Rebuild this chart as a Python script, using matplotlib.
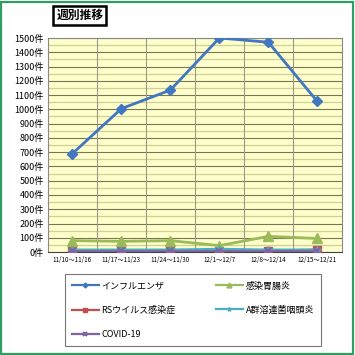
import matplotlib
matplotlib.use("Agg")
import matplotlib.pyplot as plt
from matplotlib.patches import Rectangle

plt.rcParams['font.family'] = ['Noto Sans CJK JP', 'DejaVu Sans']

# data
weeks = ["11/10～11/16", "11/17～11/23", "11/24～11/30", "12/1～12/7", "12/8～12/14", "12/15～12/21"]
influenza = [690, 1005, 1135, 1500, 1470, 1055]
gastro = [80, 75, 80, 45, 110, 95]
rsv = [10, 8, 8, 5, 8, 15]
strep_a = [15, 15, 15, 20, 15, 15]
covid = [8, 8, 8, 8, 8, 8]
yticks = list(range(0, 1600, 100))

fig = plt.figure(figsize=(3.55, 3.55), dpi=100)
ax = fig.add_axes([0.135, 0.290, 0.828, 0.603])
ax.set_facecolor("#FFFFCC")

x = list(range(len(weeks)))
h_inf, = ax.plot(x, influenza, color="#4177C0", lw=2, marker="D", ms=5, zorder=5)
h_gas, = ax.plot(x, gastro, color="#9BBB59", lw=2, marker="^", ms=7, zorder=4)
h_rs, = ax.plot(x, rsv, color="#C0504D", lw=2, marker="s", ms=6, zorder=3)
h_str, = ax.plot(x, strep_a, color="#4BACC6", lw=2, marker="*", ms=6, zorder=4)
h_cov, = ax.plot(x, covid, color="#8064A2", lw=2, marker="x", ms=5, mew=1.5, zorder=4)

ax.set_xlim(-0.5, len(weeks) - 0.5)
ax.set_ylim(0, 1500)
ax.set_yticks(yticks)
ax.set_yticklabels([f"{v}件" for v in yticks], fontsize=6.5)
ax.set_yticks(range(50, 1500, 100), minor=True)
ax.set_xticks(x)
ax.set_xticklabels(weeks, fontsize=4.5)
ax.tick_params(length=0, pad=3)
ax.tick_params(axis="y", which="minor", length=0)
ax.grid(axis="y", which="major", color="#777755", lw=0.8)
ax.grid(axis="y", which="minor", color="#CFCF9A", lw=0.9)
for b in [0.5, 1.5, 2.5, 3.5, 4.5]:
    ax.axvline(b, color="#999988", lw=0.8, zorder=1)
ax.set_axisbelow(True)
for s in ax.spines.values():
    s.set_color("#888888")
ax.spines["bottom"].set_color("#444444")

leg = fig.legend([h_inf, h_rs, h_cov, h_gas, h_str],
                 ["インフルエンザ", "RSウイルス感染症", "COVID-19", "感染胃腸炎", "A群溶連菌咽頭炎"],
                 ncol=2, loc="upper left", bbox_to_anchor=(0.169, 0.0, 0.749, 0.240),
                 mode="expand", fontsize=6.5, frameon=True, fancybox=False,
                 edgecolor="#555555", handlelength=3.0, handletextpad=0.3,
                 labelspacing=1.65, borderpad=0.8, markerscale=0.5)
leg.get_frame().set_linewidth(0.8)
for ln in leg.get_lines():
    ln.set_linewidth(1.6)

fig.text(0.225, 0.956, "週別推移", fontsize=8.5, fontweight="bold", ha="center", va="center",
         bbox=dict(boxstyle="square,pad=0.25", fc="white", ec="black", lw=1.8))

fig.patches.append(Rectangle((0.004, 0.004), 0.99, 0.99, transform=fig.transFigure,
                             fill=False, ec="#2E9E62", lw=1.6))

fig.savefig("out.png", dpi=100)
